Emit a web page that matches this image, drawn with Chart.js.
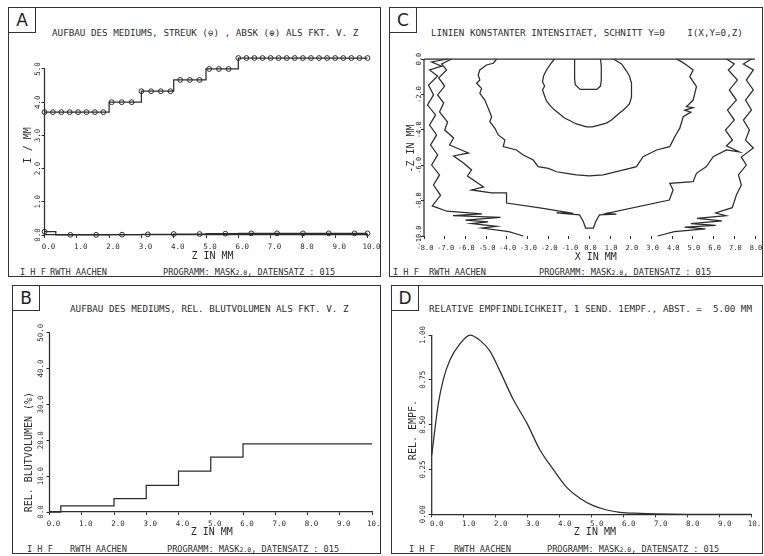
<!DOCTYPE html>
<html>
<head>
<meta charset="utf-8">
<script src="https://cdn.jsdelivr.net/npm/chart.js@4.4.0/dist/chart.umd.min.js"></script>
<style>
body{margin:0;background:#fff;}
#page{position:relative;width:764px;height:556px;overflow:hidden;background:#fff;font-family:"DejaVu Sans Mono",monospace;color:#2e2e2e;}
.panel{position:absolute;border:1.5px solid #333;box-sizing:border-box;}
.tag{position:absolute;left:0;top:0;width:27px;height:25px;border-right:1.5px solid #333;border-bottom:1.5px solid #333;box-sizing:border-box;font:17px "DejaVu Sans",sans-serif;text-align:center;line-height:24px;color:#222;}
.txt{position:absolute;white-space:pre;font-size:9.25px;line-height:10px;}
.ft{position:absolute;white-space:pre;font-size:8.6px;line-height:10px;}
.sm{font-size:6.5px;}
canvas{position:absolute;}
</style>
</head>
<body>
<div id="page">
  <div class="panel" style="left:8px;top:7px;width:373px;height:270px"><div class="tag">A</div></div>
  <div class="panel" style="left:389px;top:7px;width:374px;height:270px"><div class="tag">C</div></div>
  <div class="panel" style="left:12px;top:285px;width:369px;height:269px"><div class="tag">B</div></div>
  <div class="panel" style="left:391px;top:285px;width:372px;height:269px"><div class="tag">D</div></div>

  <div class="txt" style="left:52px;top:28px">AUFBAU DES MEDIUMS, STREUK (⊖) , ABSK (⊕) ALS FKT. V. Z</div>
  <div class="txt" style="left:431px;top:28px">LINIEN KONSTANTER INTENSITAET, SCHNITT Y=0    I(X,Y=0,Z)</div>
  <div class="txt" style="left:70px;top:304px">AUFBAU DES MEDIUMS, REL. BLUTVOLUMEN ALS FKT. V. Z</div>
  <div class="txt" style="left:429px;top:304px">RELATIVE EMPFINDLICHKEIT, 1 SEND. 1EMPF., ABST. =  5.00 MM</div>

  <div class="ft" style="left:20px;top:267px">I H F</div>
  <div class="ft" style="left:50px;top:267px">RWTH AACHEN</div>
  <div class="ft" style="left:163px;top:267px">PROGRAMM: MASK<span class="sm">2.0</span>, DATENSATZ : 015</div>
  <div class="ft" style="left:393px;top:267px">I H F</div>
  <div class="ft" style="left:429px;top:267px">RWTH AACHEN</div>
  <div class="ft" style="left:539px;top:267px">PROGRAMM: MASK<span class="sm">2.0</span>, DATENSATZ : 015</div>
  <div class="ft" style="left:27px;top:544px">I H F</div>
  <div class="ft" style="left:70px;top:544px">RWTH AACHEN</div>
  <div class="ft" style="left:167px;top:544px">PROGRAMM: MASK<span class="sm">2.0</span>, DATENSATZ : 015</div>
  <div class="ft" style="left:409px;top:544px">I H F</div>
  <div class="ft" style="left:454px;top:544px">RWTH AACHEN</div>
  <div class="ft" style="left:547px;top:544px">PROGRAMM: MASK<span class="sm">2.0</span>, DATENSATZ : 015</div>

  <canvas id="chartA"></canvas>
  <canvas id="chartB"></canvas>
  <canvas id="chartC"></canvas>
  <canvas id="chartD"></canvas>
</div>
<script>
// ---- A: scattering (STREUK) and absorption (ABSK) coefficient over depth z ----
const streukZ = [0, 2, 3, 4, 5, 6, 10];
const streukV = [3.7, 4.0, 4.33, 4.67, 5.0, 5.33, 5.33];
const streukMarkZ = [0, 0.26, 0.52, 0.78, 1.04, 1.3, 1.56, 1.82, 2.08, 2.39, 2.7, 3.0, 3.3, 3.6, 3.9, 4.2, 4.5, 4.8, 5.1, 5.4, 5.7,
                     6.0, 6.25, 6.5, 6.75, 7.0, 7.25, 7.5, 7.75, 8.0, 8.25, 8.5, 8.75, 9.0, 9.25, 9.5, 9.75, 10.0];
const streukMarkV = [3.7, 3.7, 3.7, 3.7, 3.7, 3.7, 3.7, 3.7, 4.0, 4.0, 4.0, 4.33, 4.33, 4.33, 4.33, 4.67, 4.67, 4.67, 5.0, 5.0, 5.0,
                     5.33, 5.33, 5.33, 5.33, 5.33, 5.33, 5.33, 5.33, 5.33, 5.33, 5.33, 5.33, 5.33, 5.33, 5.33, 5.33, 5.33];
const absZ = [0, 0.35, 2, 3, 4, 5, 6, 10];
const absV = [0.1, 0.005, 0.01, 0.02, 0.03, 0.04, 0.05, 0.05];
const absMarkZ = [0, 0.8, 1.6, 2.4, 3.2, 4.0, 4.8, 5.6, 6.4, 7.2, 8.0, 8.8, 9.6, 10.0];
const absMarkV = [0.1, 0.005, 0.005, 0.01, 0.02, 0.03, 0.03, 0.04, 0.05, 0.05, 0.05, 0.05, 0.05, 0.05];

// ---- B: relative blood volume (%) over depth z ----
const blutZ = [0, 0.35, 2, 3, 4, 5, 6, 10];
const blutV = [0, 1.7, 3.7, 7.4, 11.4, 15.3, 19.0, 19.0];

// ---- C: lines of constant intensity, cut at y=0 (x and -z in mm) ----
const topX = [-8, 8];
const topZ = [0, 0];
const c1x = [-0.72, -0.72, -0.69, -0.45, 0.35, 0.53, 0.57, 0.57, 0.53];
const c1z = [0, -1.1, -1.45, -1.72, -1.72, -1.53, -1.2, -0.4, 0];
const c2x = [-1.69, -1.88, -2.08, -2.22, -2.27, -2.17, -2.27, -2.17, -2.08, -1.88, -1.69, -1.5, -1.21, -1.01, -0.63, -0.14,
             0.14, 0.82, 1.06, 1.45, 1.64, 1.93, 2.03, 2.03, 2.03, 1.93, 1.79, 1.55, 1.16];
const c2z = [0, -0.28, -0.62, -0.96, -1.3, -1.53, -1.75, -2.09, -2.37, -2.66, -2.88, -3.05, -3.33, -3.45, -3.67, -3.84,
             -3.84, -3.62, -3.45, -3.05, -2.88, -2.54, -2.15, -1.75, -1.36, -0.96, -0.68, -0.28, 0];
const c3x = [-4.49, -4.65, -4.98, -5.3, -5.38, -5.3, -5.46, -5.22, -5.3, -5.06, -4.89, -4.73, -4.82, -4.57, -4.41, -4.09, -4.17,
             -3.53, -3.2, -2.72, -2.48, -1.99, -1.59, -1.11, -0.63, 0, 0.66, 1.95, 2.27, 2.59, 3.24, 3.88, 4.12, 4.36, 4.53,
             4.9, 4.6, 5.0, 4.69, 5.01, 5.17, 4.85, 5.01, 4.69, 4.44, 4.2];
const c3z = [0, -0.24, -0.34, -0.62, -0.9, -1.19, -1.37, -1.66, -1.94, -2.32, -2.79, -3.26, -3.54, -3.92, -4.29, -4.58, -4.95,
             -5.14, -5.42, -5.71, -6.08, -6.18, -6.37, -6.46, -6.55, -6.61, -6.55, -6.18, -6.08, -5.52, -5.14, -4.95, -4.39, -3.92, -3.26,
             -3.0, -2.9, -2.75, -2.69, -2.32, -1.56, -1.0, -0.62, -0.34, -0.15, 0];
const c4x = [-6.67, -7.15, -6.91, -7.29, -7.0, -7.34, -7.05, -7.25, -6.86, -7.0, -6.57, -6.76, -5.85, -6.57, -6.09, -5.7, -5.9,
             -5.12, -5.7, -4.73, -4.01, -4.01, -2.32, -0.79, -1.59, -0.48, -0.29, -0.19, 0.19, 0.29, 0.48, 1.3, 0.82, 3.86, 4.04,
             3.88, 5.01, 5.17, 5.65, 5.98, 6.62, 7.25, 6.62, 6.91, 6.57, 7.0, 6.67, 7.1, 6.76, 7.15, 6.71, 7.0, 6.62];
const c4z = [0, -0.28, -0.62, -1.07, -1.53, -2.03, -2.49, -2.99, -3.56, -4.01, -4.46, -4.86, -5.31, -5.48, -5.88, -6.27, -6.61,
             -7.23, -7.4, -7.57, -7.57, -8.14, -8.42, -8.72, -8.7, -8.81, -9.21, -9.55, -9.55, -9.21, -8.81, -8.76, -8.72, -7.97, -7.4,
             -7.02, -6.93, -6.46, -6.08, -5.52, -5.14, -5.25, -4.9, -4.58, -4.01, -3.45, -2.88, -2.32, -1.75, -1.19, -0.62, -0.28, 0];
const c5lx = [-6.86, -7.63, -7.15, -7.73, -7.34, -7.78, -7.54, -7.83, -7.44, -7.73, -7.39, -7.68, -7.34, -7.63, -7.25, -7.54,
              -7.2, -7.6, -6.9, -5.2, -6.6, -4.3, -6.0, -4.9, -5.7, -4.5, -5.2, -3.9, -3.2];
const c5lz = [0, -0.17, -0.4, -0.62, -0.96, -1.47, -2.03, -2.6, -3.16, -3.73, -4.29, -4.86, -5.42, -5.99, -6.55, -7.12,
              -7.7, -8.3, -8.6, -8.75, -8.85, -8.95, -9.1, -9.2, -9.3, -9.45, -9.55, -9.75, -10];
const c5rx = [3.3, 4.1, 5.6, 4.6, 6.1, 4.9, 6.4, 5.2, 6.6, 6.1, 6.9, 7.1, 7.34, 7.2, 7.58, 7.34, 7.92, 7.54, 7.73, 7.44, 7.83, 7.54,
              7.92, 7.58, 7.92, 7.44, 7.83];
const c5rz = [-10, -9.75, -9.6, -9.5, -9.4, -9.3, -9.15, -9.0, -8.85, -8.7, -8.4, -7.68, -7.12, -6.55, -5.99, -5.54, -5.03, -4.58,
              -4.01, -3.45, -2.88, -2.32, -1.75, -1.19, -0.62, -0.28, 0];

// ---- D: relative sensitivity, 1 source / 1 detector, spacing 5.00 mm ----
const empfZ = [0, 0.21, 0.36, 0.57, 0.88, 1.2, 1.51, 1.82, 2.13, 2.55, 2.97, 3.38, 3.8, 4.22, 4.63, 5.05, 5.47, 5.88, 6.5, 7.0, 8.0, 9.0, 10.0];
const empfV = [0.33, 0.62, 0.75, 0.86, 0.95, 1.0, 0.97, 0.91, 0.8, 0.64, 0.51, 0.36, 0.25, 0.15, 0.09, 0.048, 0.024, 0.011, 0.005, 0.002, 0, 0, 0];

const INK = '#2c2c2c';
const MONO = '"DejaVu Sans Mono", monospace';

function pts(xs, ys) { return xs.map((x, i) => ({x: x, y: ys[i]})); }

function line(xs, ys, extra) {
  return Object.assign({data: pts(xs, ys), showLine: true, borderColor: INK, borderWidth: 1.25,
    pointRadius: 0, fill: false, clip: false}, extra || {});
}
function marks(xs, ys) {
  return {data: pts(xs, ys), showLine: false, pointRadius: 2.4, pointBorderWidth: 1,
    pointBorderColor: INK, pointBackgroundColor: 'rgba(0,0,0,0)', clip: false};
}

// y axis line (only up to its last tick), y tick labels standing on end, axis titles
const plotterText = {
  id: 'plotterText',
  afterDraw(chart, args, o) {
    const {ctx, chartArea: ca, scales: {x, y}} = chart;
    ctx.save();
    ctx.strokeStyle = INK;
    ctx.lineWidth = 1.25;
    ctx.beginPath();
    ctx.moveTo(ca.left, y.getPixelForValue(y.min));
    ctx.lineTo(ca.left, y.getPixelForValue(o.yAxisTo));
    ctx.stroke();
    ctx.fillStyle = INK;
    ctx.textAlign = 'center';
    ctx.textBaseline = 'middle';
    ctx.font = o.tickSize + 'px ' + MONO;
    y.ticks.forEach(t => {
      ctx.save();
      ctx.translate(ca.left - o.labelGap, y.getPixelForValue(t.value));
      ctx.rotate(-Math.PI / 2);
      ctx.fillText(t.value.toFixed(o.yDigits), 0, 0);
      ctx.restore();
    });
    ctx.font = '10px ' + MONO;
    ctx.save();
    ctx.translate(ca.left - o.yTitleGap, y.getPixelForValue(o.yTitleAt));
    ctx.rotate(-Math.PI / 2);
    ctx.fillText(o.yTitle, 0, 0);
    ctx.restore();
    ctx.fillText(o.xTitle, x.getPixelForValue(o.xTitleAt), ca.bottom + o.xTitleGap);
    ctx.restore();
  }
};

// box = canvas [left, top, width, height], area = plot area [left, top, right, bottom], all in page px
function plotterChart(id, box, area, xs, ys, datasets, text) {
  const cv = document.getElementById(id);
  cv.style.left = box[0] + 'px';
  cv.style.top = box[1] + 'px';
  cv.width = box[2];
  cv.height = box[3];
  const yW = area[0] - box[0];
  const xH = box[1] + box[3] - area[3];
  const grid = {drawOnChartArea: false, drawTicks: true, tickLength: 3, color: INK, lineWidth: 1};
  text.yAxisTo = ys.axisTo;
  return new Chart(cv, {
    type: 'scatter',
    data: {datasets: datasets},
    options: {
      responsive: false, animation: false, devicePixelRatio: 1,
      layout: {padding: {top: area[1] - box[1], right: box[0] + box[2] - area[2], bottom: 0, left: 0}},
      plugins: {legend: {display: false}, tooltip: {enabled: false}, plotterText: text},
      scales: {
        x: {
          type: 'linear', min: xs.min, max: xs.max,
          ticks: {stepSize: xs.step, includeBounds: false, autoSkip: false, maxRotation: 0, minRotation: 0, padding: xs.pad,
            labelOffset: xs.shift, color: INK, font: {family: MONO, size: xs.size},
            callback: v => v.toFixed(1)},
          grid: grid,
          border: {display: xs.axisLine, color: INK, width: 1.25},
          afterFit: s => { s.height = xH; s.paddingLeft = 0; s.paddingRight = 0; }
        },
        y: {
          type: 'linear', min: ys.min, max: ys.max,
          ticks: {display: false, stepSize: ys.step, includeBounds: false},
          grid: grid,
          border: {display: false},
          afterBuildTicks: s => { s.ticks = s.ticks.filter(t => t.value <= ys.axisTo + 1e-9); },
          afterFit: s => { s.width = yW; }
        }
      }
    },
    plugins: [plotterText]
  });
}

plotterChart('chartA', [10, 40, 370, 222], [44.5, 55.7, 367.5, 235],
  {min: 0, max: 10, step: 1, pad: 4.5, shift: 4, size: 7.5, axisLine: true},
  {min: 0, max: 5.4, step: 1, axisTo: 5},
  [line(streukZ, streukV, {stepped: true}), marks(streukMarkZ, streukMarkV),
   line(absZ, absV, {stepped: true}), marks(absMarkZ, absMarkV)],
  {tickSize: 7.5, yDigits: 1, labelGap: 6.5, yTitle: 'I / MM', yTitleGap: 16.5, yTitleAt: 2.7,
   xTitle: 'Z IN MM', xTitleGap: 21, xTitleAt: 5.2});

plotterChart('chartB', [14, 316, 366, 230], [49.5, 332.7, 372, 512],
  {min: 0, max: 10, step: 1, pad: 4.8, shift: 4, size: 7.5, axisLine: true},
  {min: 0, max: 50, step: 10, axisTo: 50},
  [line(blutZ, blutV, {stepped: true})],
  {tickSize: 7.5, yDigits: 1, labelGap: 8.5, yTitle: 'REL. BLUTVOLUMEN (%)', yTitleGap: 20.5, yTitleAt: 16.7,
   xTitle: 'Z IN MM', xTitleGap: 20.7, xTitleAt: 5.03});

plotterChart('chartC', [392, 40, 370, 226], [424, 59, 755, 236],
  {min: -8, max: 8, step: 1, pad: 4.8, shift: 1, size: 7, axisLine: false},
  {min: -10, max: 0, step: 2, axisTo: 0},
  [line(topX, topZ), line(c1x, c1z), line(c2x, c2z), line(c3x, c3z), line(c4x, c4z),
   line(c5lx, c5lz), line(c5rx, c5rz)],
  {tickSize: 7, yDigits: 1, labelGap: 5, yTitle: '-Z IN MM', yTitleGap: 12.5, yTitleAt: -5.06,
   xTitle: 'X IN MM', xTitleGap: 21, xTitleAt: 0.3});

plotterChart('chartD', [394, 318, 366, 228], [431.7, 335, 751.7, 514.3],
  {min: 0, max: 10, step: 1, pad: 2.5, shift: 5, size: 7.5, axisLine: true},
  {min: 0, max: 1, step: 0.25, axisTo: 1},
  [line(empfZ, empfV, {cubicInterpolationMode: 'monotone'})],
  {tickSize: 7.5, yDigits: 2, labelGap: 9, yTitle: 'REL. EMPF.', yTitleGap: 18, yTitleAt: 0.47,
   xTitle: 'Z IN MM', xTitleGap: 18.4, xTitleAt: 5.1});
</script>
</body>
</html>
